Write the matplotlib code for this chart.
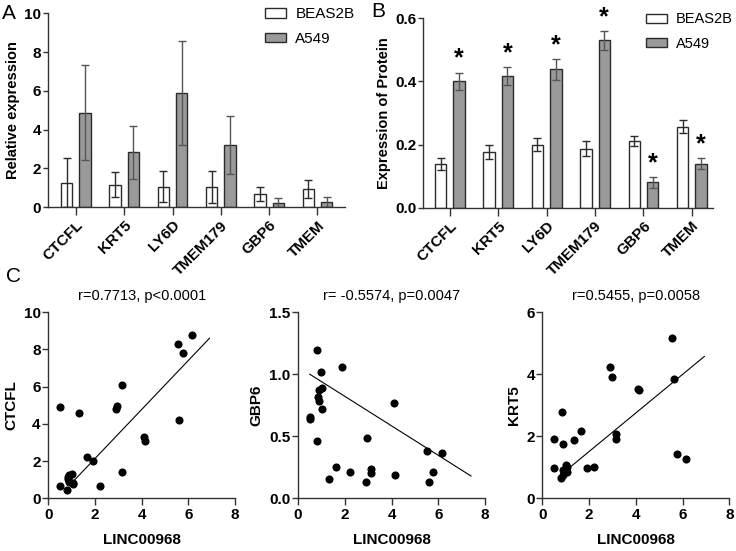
import numpy as np
import matplotlib
matplotlib.use('Agg')
import matplotlib.pyplot as plt
from matplotlib.patches import Patch

plt.rcParams['font.family'] = ['Liberation Sans', 'DejaVu Sans']

genes = ['CTCFL', 'KRT5', 'LY6D', 'TMEM179', 'GBP6', 'TMEM']
groups = ['BEAS2B', 'A549']

# A: relative expression (mean, sd)
rel_beas = [1.26, 1.16, 1.06, 1.03, 0.69, 0.93]
rel_beas_sd = [1.27, 0.66, 0.80, 0.83, 0.35, 0.45]
rel_a549 = [4.88, 2.82, 5.88, 3.21, 0.24, 0.28]
rel_a549_sd = [2.44, 1.37, 2.70, 1.50, 0.23, 0.27]

# B: protein expression (mean, sd)
prot_beas = [0.137, 0.175, 0.200, 0.187, 0.211, 0.256]
prot_beas_sd = [0.019, 0.022, 0.022, 0.023, 0.016, 0.021]
prot_a549 = [0.400, 0.416, 0.438, 0.530, 0.080, 0.140]
prot_a549_sd = [0.028, 0.028, 0.033, 0.030, 0.017, 0.018]
prot_star = [True, True, True, True, True, True]

# C: correlation with LINC00968
linc = [0.50, 0.50, 0.83, 0.81, 0.89, 0.86, 0.90, 1.00, 1.04, 1.04, 1.33, 1.64,
        1.90, 2.21, 2.90, 2.96, 3.14, 3.14, 4.11, 4.14, 5.53, 5.61, 5.77, 6.14]
ctcfl = [4.91, 0.68, 1.05, 0.46, 1.25, 1.15, 0.90, 1.32, 0.82, 0.78, 4.59, 2.23,
         2.00, 0.66, 4.80, 4.96, 6.07, 1.39, 3.30, 3.07, 8.30, 4.18, 7.80, 8.79]
gbp6 = [0.656, 0.635, 1.197, 0.46, 0.87, 0.82, 0.785, 1.018, 0.89, 0.718, 0.155, 0.255,
        1.058, 0.212, 0.129, 0.488, 0.233, 0.20, 0.77, 0.188, 0.383, 0.134, 0.214, 0.367]
krt5 = [1.92, 0.97, 2.77, 0.64, 1.75, 0.75, 0.90, 1.07, 0.85, 1.00, 1.87, 2.16,
        0.98, 1.02, 4.22, 3.90, 2.06, 1.90, 3.53, 3.50, 5.18, 3.84, 1.44, 1.26]
corr_titles = ['r=0.7713, p<0.0001', 'r= -0.5574, p=0.0047', 'r=0.5455, p=0.0058']
# regression lines as shown in the figure (slope, intercept, x range)
fit_slope = [1.318, -0.1188, 0.621]
fit_intercept = [-0.497, 1.059, 0.268]
fit_ranges = [(1.06, 6.9), (0.5, 7.4), (0.68, 6.93)]

GRAY = '#9a9a9a'
EDGE = '#2b2b2b'

fig = plt.figure(figsize=(7.36, 5.51), dpi=100)


def style_axes(ax, xlen, ylen):
    for s in ['top', 'right']:
        ax.spines[s].set_visible(False)
    for s in ['left', 'bottom']:
        ax.spines[s].set_color('#333333')
        ax.spines[s].set_linewidth(1.0)
    ax.tick_params(direction='out', width=1, color='#333333', labelsize=11)
    ax.tick_params(axis='x', length=xlen, pad=2)
    ax.tick_params(axis='y', length=ylen, pad=1.5)
    for lab in ax.get_yticklabels() + ax.get_xticklabels():
        lab.set_fontweight('bold')


def bar_panel(ax, b, bsd, a, asd, ylabel, ylim, yticks, ytl, xlim, leg_x, leg_fs):
    x = np.arange(len(genes))
    w = 0.235
    ax.bar(x - 0.19, b, w, yerr=bsd, color='white', edgecolor=EDGE, linewidth=1,
           error_kw=dict(ecolor=EDGE, elinewidth=1, capsize=3, capthick=1))
    ax.bar(x + 0.19, a, w, yerr=asd, color=GRAY, edgecolor=EDGE, linewidth=1,
           error_kw=dict(ecolor='#555555', elinewidth=1, capsize=3, capthick=1))
    ax.set_xlim(*xlim)
    ax.set_ylim(*ylim)
    ax.set_yticks(yticks)
    ax.set_yticklabels(ytl)
    ax.set_xticks(x)
    ax.set_xticklabels(genes, rotation=45, ha='right', rotation_mode='anchor')
    ax.set_ylabel(ylabel, fontsize=10.5, fontweight='bold', labelpad=3)
    style_axes(ax, 6, 3.5)
    handles = [Patch(facecolor='white', edgecolor=EDGE, linewidth=1),
               Patch(facecolor=GRAY, edgecolor=EDGE, linewidth=1)]
    ax.legend(handles, groups, loc='upper left', bbox_to_anchor=(leg_x, 1.03),
              frameon=False, fontsize=leg_fs, borderpad=0, borderaxespad=0,
              handlelength=1.4, handleheight=0.55, handletextpad=0.6, labelspacing=0.7)
    return x


# A
axA = fig.add_axes([0.0656, 0.624, 0.403, 0.352])
bar_panel(axA, rel_beas, rel_beas_sd, rel_a549, rel_a549_sd, 'Relative expression',
          (0, 10), [0, 2, 4, 6, 8, 10], ['0', '2', '4', '6', '8', '10'], (-0.573, 5.57),
          0.73, 11)

# B
axB = fig.add_axes([0.575, 0.623, 0.394, 0.344])
xb = bar_panel(axB, prot_beas, prot_beas_sd, prot_a549, prot_a549_sd, 'Expression of Protein',
               (0, 0.6), [0, 0.2, 0.4, 0.6], ['0.0', '0.2', '0.4', '0.6'], (-0.55, 5.44),
               0.77, 10.5)
for xi, v, sd, st in zip(xb, prot_a549, prot_a549_sd, prot_star):
    if st:
        axB.text(xi + 0.19, v + sd + 0.006, '*', ha='center', va='bottom',
                 fontsize=18, fontweight='bold')

# C
lefts = [0.0656, 0.405, 0.737]
ys = [ctcfl, gbp6, krt5]
ynames = ['CTCFL', 'GBP6', 'KRT5']
ylims = [(0, 10), (0, 1.5), (0, 6)]
ytick_sets = [([0, 2, 4, 6, 8, 10], ['0', '2', '4', '6', '8', '10']),
              ([0, 0.5, 1.0, 1.5], ['0.0', '0.5', '1.0', '1.5']),
              ([0, 2, 4, 6], ['0', '2', '4', '6'])]
for i in range(3):
    ax = fig.add_axes([lefts[i], 0.0956, 0.254, 0.338])
    ax.scatter(linc, ys[i], s=34, color='black', zorder=3, linewidths=0)
    xr = np.array(fit_ranges[i])
    ax.plot(xr, fit_slope[i] * xr + fit_intercept[i], color='black', lw=0.8)
    ax.set_xlim(0, 8)
    ax.set_ylim(*ylims[i])
    ax.set_xticks([0, 2, 4, 6, 8])
    ax.set_yticks(ytick_sets[i][0])
    ax.set_yticklabels(ytick_sets[i][1])
    ax.set_xlabel('LINC00968', fontsize=11, fontweight='bold', labelpad=8)
    ax.set_ylabel(ynames[i], fontsize=11, fontweight='bold', labelpad=4)
    ax.set_title(corr_titles[i], fontsize=10.5, pad=9)
    style_axes(ax, 5, 4)

fig.text(0.003, 0.992, 'A', fontsize=15, va='top')
fig.text(0.505, 0.997, 'B', fontsize=15, va='top')
fig.text(0.008, 0.515, 'C', fontsize=15, va='top')

fig.savefig('out.png', dpi=100)
